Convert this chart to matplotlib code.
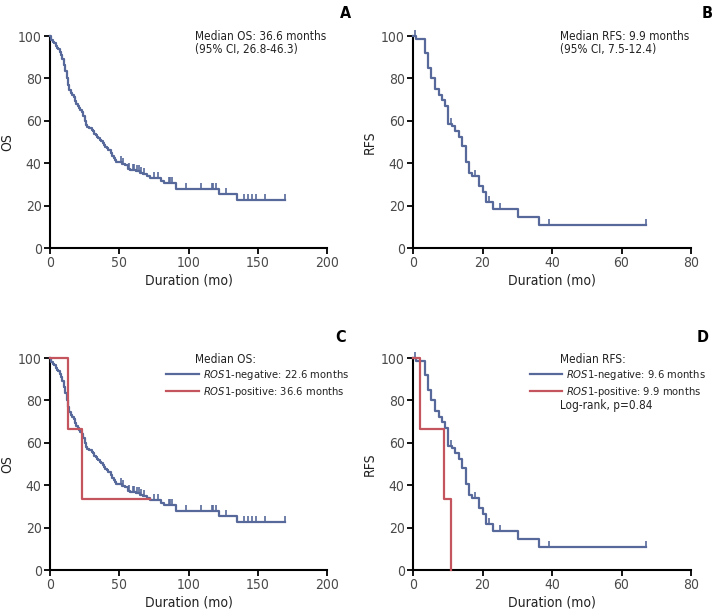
import matplotlib
matplotlib.use("agg")
import matplotlib.pyplot as plt
from matplotlib.lines import Line2D
from matplotlib import font_manager

# condensed face, close to the narrow sans used in the reference
names = {f.name for f in font_manager.fontManager.ttflist}
narrow = "DejaVu Sans"
for cand in ["Liberation Sans Narrow", "DejaVu Sans Condensed"]:
    if cand in names:
        narrow = cand
        break
plt.rcParams["font.family"] = [narrow, "DejaVu Sans"]
plt.rcParams["font.stretch"] = "condensed"
plt.rcParams["mathtext.fontset"] = "custom"
plt.rcParams["mathtext.it"] = narrow + ":italic"
plt.rcParams["mathtext.rm"] = narrow

BLUE = "#56699a"
RED = "#c4545e"

# OS, whole cohort (event times in months, survival % after each event)
os_times = [0.5, 1, 2, 3, 4, 5, 6, 7, 8, 9, 10, 11, 12, 13, 14, 15, 16, 17,
            18, 19, 20, 21, 22, 23, 24, 25, 26, 27, 28, 30, 31, 32, 33, 34,
            35, 36, 37, 38, 39, 40, 41, 42, 44, 45, 46, 47, 48, 52, 54, 56,
            58, 62, 65, 67, 70, 72, 80, 82, 91, 122, 135]
os_surv = [99, 98, 97, 96.5, 95.5, 94.5, 94, 92.5, 91, 89, 86.5, 83.5, 80,
           77, 74.5, 73, 72, 71, 69.5, 68, 67, 66, 65, 64, 62.5, 60, 58, 57,
           56.5, 55.5, 55, 54, 53.5, 52.5, 52, 51, 50.5, 49.5, 48.5, 47.5, 47,
           46, 45, 43.5, 42.5, 41.5, 40.5, 39.5, 39, 37.5, 37, 36.5, 35.5, 35,
           34, 33, 31.5, 30.5, 28, 25.7, 22.8]
os_censor = [51, 53, 57, 60, 61, 63, 64, 66, 68, 75, 78, 86, 87, 88, 98, 109,
             117, 118, 120, 127, 140, 143, 146, 149, 155, 170]
os_end = 170

# RFS, whole cohort
rfs_times = [1.0, 3.4, 4.3, 5.3, 6.2, 7.4, 8.4, 9.3, 10.2, 11.3, 12.2, 13.2,
             14.2, 15.2, 16.0, 17.0, 19.0, 20.0, 21.1, 23.0, 30.1, 36.3]
rfs_surv = [98.5, 92, 85, 80, 75, 72.4, 69.7, 66.9, 58.7, 57.5, 55.3, 52.4,
            48.2, 40.7, 35.6, 34, 29.2, 26.4, 21.5, 18.4, 14.4, 10.7]
rfs_censor = [0.6, 10.9, 17.8, 21.9, 25.0, 39.2, 67]
rfs_end = 67

# ROS1-positive subgroup
pos_os_times = [13.2, 22.8]
pos_os_surv = [66.7, 33.3]
pos_os_end = 72
pos_rfs_times = [2.1, 8.8, 11.0]
pos_rfs_surv = [66.7, 33.3, 0]
pos_rfs_end = 11.0


def km_step(ax, times, surv, end, color, censor=None):
    xs = [0] + list(times) + [end]
    ys = [100] + list(surv) + [surv[-1]]
    ax.step(xs, ys, where="post", color=color, lw=1.6, clip_on=False, zorder=3)
    if censor:
        cy = []
        for c in censor:
            v = 100
            for t, s in zip(times, surv):
                if t <= c:
                    v = s
            cy.append(v)
        ax.plot(censor, cy, ls="none", marker=2, ms=4.5, mew=1.2, color=color,
                clip_on=False, zorder=3)


def style(ax, xmax, xstep, ylabel):
    ax.set_xlim(0, xmax)
    ax.set_ylim(0, 100)
    ax.set_xticks(range(0, xmax + 1, xstep))
    ax.set_yticks(range(0, 101, 20))
    for s in ["top", "right"]:
        ax.spines[s].set_visible(False)
    for s in ["left", "bottom"]:
        ax.spines[s].set_linewidth(1.5)
    ax.tick_params(direction="out", length=4, width=1.3, labelsize=10,
                   labelcolor="#4a4a4a", pad=2)
    ax.set_xlabel("Duration (mo)", fontsize=10, color="#222222", labelpad=2)
    ax.set_ylabel(ylabel, fontsize=10, color="#222222")
    ax.yaxis.set_label_coords(-0.13, 0.5)


fig = plt.figure(figsize=(7.17, 6.16), dpi=100)
W, H = 717, 616


def add_ax(x0, y0, x1, y1):
    return fig.add_axes([x0 / W, 1 - y1 / H, (x1 - x0) / W, (y1 - y0) / H])


axA = add_ax(50, 36, 327, 248)
axB = add_ax(413, 36, 691, 248)
axC = add_ax(50, 358, 327, 570)
axD = add_ax(413, 358, 691, 570)

TXT = dict(fontsize=8.5, va="center", color="#222222")
LEG = dict(loc="upper left", frameon=False, fontsize=8, handlelength=2.9,
           handletextpad=0.4, labelspacing=0.3, borderaxespad=0, borderpad=0,
           labelcolor="#222222")

# A
km_step(axA, os_times, os_surv, os_end, BLUE, os_censor)
style(axA, 200, 50, "OS")
axA.text(105, 100, "Median OS: 36.6 months", **TXT)
axA.text(105, 93.4, "(95% CI, 26.8-46.3)", **TXT)

# B
km_step(axB, rfs_times, rfs_surv, rfs_end, BLUE, rfs_censor)
style(axB, 80, 20, "RFS")
axB.text(42.3, 100, "Median RFS: 9.9 months", **TXT)
axB.text(42.3, 93.4, "(95% CI, 7.5-12.4)", **TXT)

# C
km_step(axC, os_times, os_surv, os_end, BLUE, os_censor)
km_step(axC, pos_os_times, pos_os_surv, pos_os_end, RED)
style(axC, 200, 50, "OS")
axC.text(105, 99.5, "Median OS:", **TXT)
handles = [Line2D([], [], color=BLUE, lw=1.6), Line2D([], [], color=RED, lw=1.6)]
axC.legend(handles, [r"$\mathit{ROS1}$-negative: 22.6 months",
                     r"$\mathit{ROS1}$-positive: 36.6 months"],
           bbox_to_anchor=(0.42, 0.955), **LEG)

# D
km_step(axD, rfs_times, rfs_surv, rfs_end, BLUE, rfs_censor)
km_step(axD, pos_rfs_times, pos_rfs_surv, pos_rfs_end, RED)
style(axD, 80, 20, "RFS")
axD.text(42.3, 99.5, "Median RFS:", **TXT)
axD.legend(handles, [r"$\mathit{ROS1}$-negative: 9.6 months",
                     r"$\mathit{ROS1}$-positive: 9.9 months"],
           bbox_to_anchor=(0.42, 0.955), **LEG)
axD.text(42.3, 77.8, "Log-rank, p=0.84", **TXT)

for lab, x, y in [("A", 345, 14), ("B", 707, 14), ("C", 341, 337), ("D", 703, 337)]:
    fig.text(x / W, 1 - y / H, lab, fontsize=11.5, fontweight="bold",
             ha="center", va="center", family="DejaVu Sans")

fig.savefig("out.png", dpi=100)
